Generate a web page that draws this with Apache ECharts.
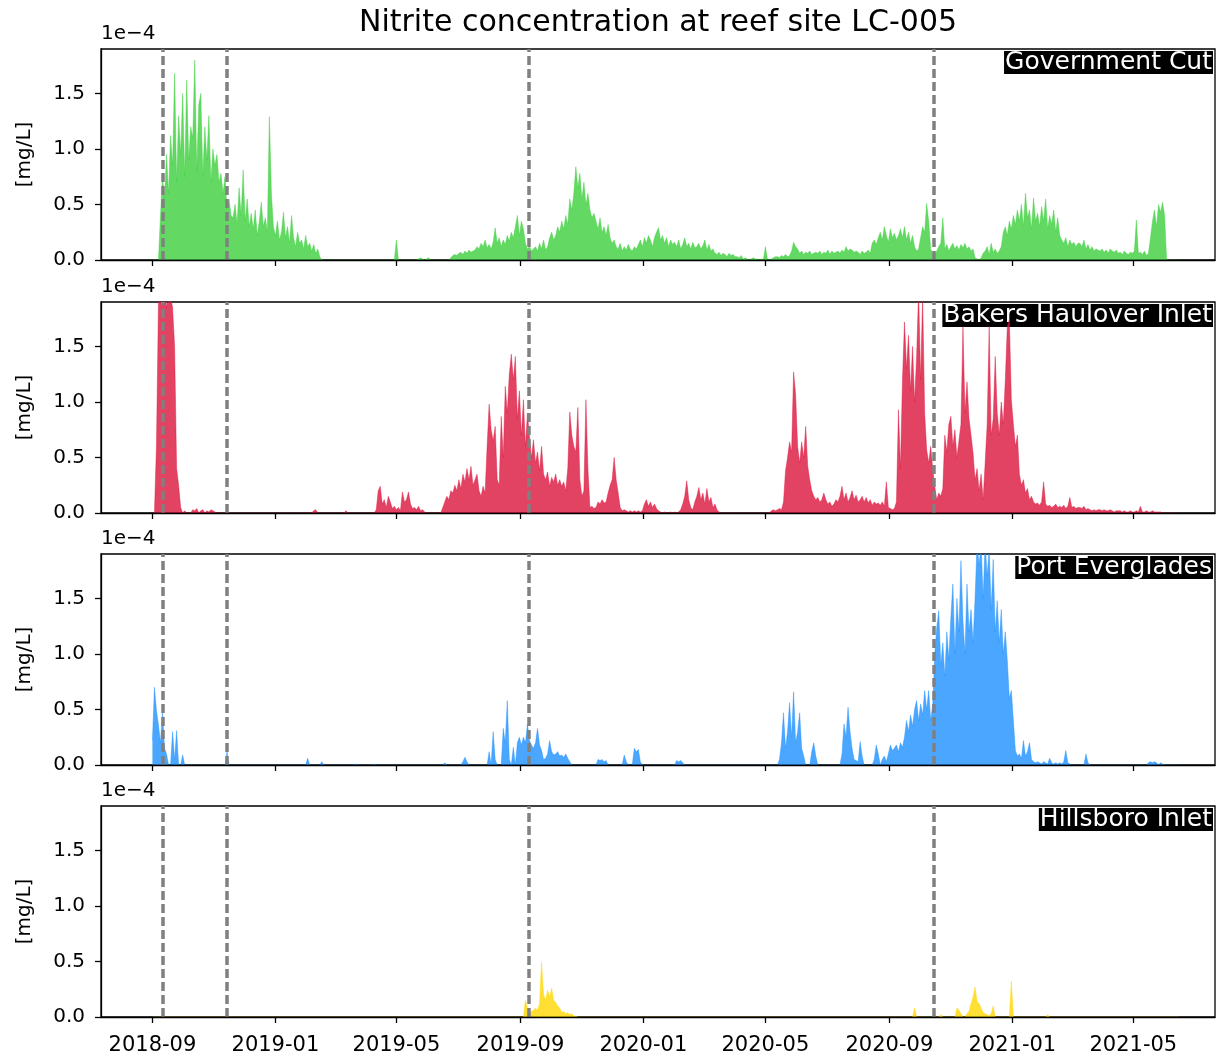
<!DOCTYPE html>
<html>
<head>
<meta charset="utf-8">
<script src="https://cdn.jsdelivr.net/npm/echarts@6/dist/echarts.min.js"></script>
<style>
html,body{margin:0;padding:0;background:#fff;}
#chart{width:1220px;height:1059px;}
</style>
</head>
<body>
<div id="chart"></div>
<script>
// ---- DATA (values in units of 1e-6 mg/L, i.e. 100 = 1.0e-4) ----
const startDate = '2018-09-01';   // first sample
const stepDays = 2;               // sampling step of the value arrays
const xMinDate = '2018-07-12';
const xMaxDate = '2021-07-21';
const tickDates = ['2018-09-01','2019-01-01','2019-05-01','2019-09-01','2020-01-01','2020-05-01','2020-09-01','2021-01-01','2021-05-01'];
const eventDates = ['2018-09-11','2018-11-14','2019-09-09','2020-10-15'];
const yTicks = [0, 50, 100, 150];
const siteNames = ['Government Cut','Bakers Haulover Inlet','Port Everglades','Hillsboro Inlet'];

const govCut = [
0,0,0,0,40,75,55,95,60,112,
85,168,70,130,95,150,75,162,90,120,
110,180,80,140,150,75,120,90,130,70,
100,85,95,70,78,60,75,45,55,40,
38,50,32,65,40,81,35,55,30,42,
28,45,22,35,52,30,38,25,129,60,
30,22,35,18,25,43,20,30,15,40,
20,12,25,15,18,10,22,12,15,8,
14,6,10,3,0,0,0,0,0,0,
0,0,0,0,0,0,0,0,0,0,
0,0,0,0,0,0,0,0,0,0,
0,0,0,0,0,0,0,0,0,0,
0,18,0,0,0,0,0,0,0,0,
0,0,1,2,1,0,1,2,0,0,
0,0,0,0,0,0,0,0,2,4,
5,4,6,7,5,8,6,9,7,8,
9,12,10,15,12,18,11,14,10,16,
29,15,20,12,18,14,22,17,25,20,
30,40,22,35,28,15,10,12,8,10,
12,8,15,10,18,9,12,20,25,18,
22,30,25,35,28,40,32,55,45,60,
84,65,78,55,70,50,60,45,38,42,
35,28,38,25,30,22,32,20,15,18,
12,10,15,8,12,9,14,10,8,12,
10,14,18,12,20,15,22,18,12,20,
25,29,18,22,15,20,12,18,14,16,
12,18,10,14,20,12,15,10,16,11,
12,15,10,13,18,9,14,8,10,6,
5,7,4,6,5,3,6,4,5,3,
3,2,4,1,2,1,0,1,2,1,
1,0,1,0,12,1,0,1,2,3,
3,2,4,3,5,3,4,8,16,12,
10,6,8,5,7,6,8,5,6,7,
6,8,5,7,6,9,5,8,6,7,
8,6,9,7,12,8,10,9,7,8,
7,5,8,6,7,9,6,15,18,14,
20,25,18,30,22,16,28,20,24,18,
22,28,20,30,18,25,15,22,12,8,
10,20,30,25,51,35,10,6,5,8,
12,15,38,10,14,8,12,15,10,13,
9,14,11,15,10,12,8,10,2,1,
0,2,6,8,12,5,15,7,10,6,
8,12,25,30,22,35,28,40,32,45,
35,50,30,60,38,45,28,56,35,42,
30,48,35,55,28,40,32,45,25,38,
22,18,15,20,12,18,14,16,12,15,
15,12,18,10,14,9,12,8,10,9,
8,10,7,9,6,10,8,7,9,6,
7,5,8,6,5,7,6,8,36,6,
7,5,8,4,6,20,35,45,30,50,
43,52,40,0,0,0,0,0,0,0
];

const bakers = [
0,0,60,190,200,195,200,185,200,195,
185,150,40,25,5,0,2,0,0,0,
3,2,4,0,2,3,0,2,1,3,
2,1,0,0,0,0,0,0,0,0,
0,0,0,0,0,0,0,0,0,0,
0,0,0,0,0,0,0,0,0,0,
0,0,0,0,0,0,0,0,0,0,
0,0,0,0,0,0,0,0,0,0,
2,3,0,0,0,0,0,0,0,0,
0,0,0,0,0,0,2,0,0,0,
0,0,0,0,0,0,0,0,0,0,
0,3,20,24,8,12,5,15,10,4,
6,3,5,2,19,10,12,19,8,4,
5,3,6,2,3,1,0,0,0,0,
0,0,0,0,5,10,15,12,20,18,
25,20,30,22,35,28,40,30,42,25,
30,35,20,15,24,18,60,98,75,65,
78,30,25,87,50,114,90,125,143,120,
141,85,110,70,102,60,90,69,50,66,
45,55,38,60,35,30,37,24,32,28,
35,25,30,24,28,20,40,91,70,60,
55,95,30,15,20,102,40,5,6,4,
5,10,8,12,9,10,18,25,30,50,
30,18,5,2,3,2,1,2,1,2,
1,2,1,2,8,12,6,10,5,8,
4,2,1,0,1,0,0,1,0,1,
0,1,3,8,15,29,12,5,3,10,
15,23,12,18,8,22,10,14,5,8,
3,1,0,0,0,0,0,0,0,0,
0,0,0,0,0,0,0,0,0,0,
0,0,0,0,0,0,0,2,3,2,
3,4,3,10,38,50,64,55,127,107,
60,45,64,50,78,42,30,20,15,12,
14,10,12,18,12,8,10,6,8,12,
10,15,24,12,18,10,14,20,12,16,
10,12,15,10,14,9,12,7,10,8,
9,7,10,6,28,5,4,3,4,10,
93,40,120,172,130,160,110,150,100,140,
200,120,195,90,57,45,60,40,24,12,
18,15,22,70,55,80,87,60,75,50,
65,80,168,90,118,85,70,54,30,40,
20,35,12,45,80,168,70,85,141,90,
70,100,80,120,168,174,102,80,60,70,
35,25,30,18,22,12,15,10,8,9,
7,10,28,8,6,7,5,6,8,5,
6,5,7,4,6,14,5,6,4,5,
5,4,6,3,4,3,2,3,2,3,
3,2,3,2,2,3,2,1,2,2,
2,1,2,1,1,2,1,1,2,1,
6,1,1,2,1,1,2,1,1,1,
1,0,0,0,0,0,0,0,0,0
];

const portEverglades = [
22,70,49,36,20,48,15,10,0,0,
30,5,31,0,0,9,0,0,0,0,
0,0,0,0,0,0,0,0,0,0,
0,0,0,0,0,0,0,12,0,0,
0,0,0,0,0,0,0,0,0,0,
0,0,0,0,0,0,0,0,0,0,
0,0,0,0,0,0,0,0,0,0,
0,0,0,0,0,0,0,6,0,0,
0,0,0,0,3,0,0,0,0,0,
0,0,0,0,0,0,0,0,0,0,
0,1,0,0,0,0,0,0,0,0,
1,0,0,0,0,0,0,0,0,0,
0,0,0,0,0,0,0,0,0,0,
0,0,0,0,0,0,0,0,0,0,
0,0,0,0,0,2,0,0,0,0,
0,0,0,0,3,7,3,0,0,0,
0,0,0,0,0,0,0,12,0,30,
5,0,0,0,33,20,58,5,0,16,
0,20,25,18,25,20,37,22,18,15,
20,33,18,13,5,6,10,22,12,9,
10,12,8,9,7,10,6,3,0,0,
0,0,0,0,0,0,0,0,0,0,
0,5,4,5,3,4,0,0,0,0,
0,0,0,0,9,3,0,0,0,15,
12,14,3,0,0,0,0,0,0,0,
0,0,0,0,0,0,0,0,0,0,
4,3,4,2,0,0,0,0,0,0,
0,0,0,0,0,0,0,0,0,0,
0,0,0,0,0,0,0,0,0,0,
0,0,0,0,0,0,0,0,0,0,
0,0,0,0,0,0,0,0,0,0,
0,5,20,47,15,30,56,25,66,20,
30,47,15,8,0,0,0,12,20,8,
0,0,0,0,0,0,0,0,0,0,
0,0,10,37,25,52,30,15,5,4,
3,21,8,0,0,0,0,0,5,18,
10,0,5,8,3,10,18,13,15,18,
12,20,16,25,40,30,45,35,50,58,
40,55,45,67,50,67,40,55,100,124,
139,90,110,80,120,95,133,163,100,150,
120,184,130,100,163,120,140,110,150,200,
180,200,150,200,170,195,140,185,120,148,
110,140,100,120,94,60,67,40,13,8,
10,6,22,8,12,20,5,3,2,3,
2,1,3,2,1,6,2,1,2,1,
2,1,3,13,2,1,0,0,0,0,
0,0,0,10,2,0,0,0,0,0,
0,0,0,0,0,0,0,0,0,0,
0,0,0,0,0,0,0,0,0,0,
0,0,0,0,2,3,2,3,2,0,
2,1,0,0,0,0,0,0,0,0
];

const hillsboro = [
0,0,0,0,0,0,0,0,0,0,
0,0,0,0,0,0,0,0,0,0,
0,0,0,0,0,0,0,0,0,0,
0,0,0,0,0,0,0,0,0,0,
0,0,0,0,0,0,0,0,0,0,
0,0,0,0,0,0,0,0,0,0,
0,0,0,0,0,0,0,0,0,0,
0,0,0,0,0,0,0,0,0,0,
0,0,0,0,0,0,0,0,0,0,
0,0,0,0,0,0,0,0,0,0,
0,0,0,0,0,0,0,0,0,0,
0,0,0,0,0,0,0,0,0,0,
0,0,0,0,0,0,0,0,0,0,
0,0,0,0,0,0,0,0,0,0,
0,0,0,0,0,0,0,0,0,0,
0,0,0,0,0,0,0,0,0,0,
0,0,0,0,0,0,0,0,0,0,
0,0,0,0,0,0,0,0,0,0,
0,0,0,0,0,15,8,2,5,6,
8,6,12,49,20,15,24,18,26,15,
13,10,8,4,5,3,4,2,3,1,
1,0,0,0,0,0,0,0,0,0,
0,0,0,0,0,0,0,0,0,0,
0,0,0,0,0,0,0,0,0,0,
0,0,0,0,0,0,0,0,0,0,
0,0,0,0,0,0,0,0,0,0,
0,0,0,0,0,0,0,0,0,0,
0,0,0,0,0,0,0,0,0,0,
0,0,0,0,0,0,0,0,0,0,
0,0,0,0,0,0,0,0,0,0,
0,0,0,0,0,0,0,0,0,0,
0,0,0,0,0,0,0,0,0,0,
0,0,0,0,0,0,0,0,0,0,
0,0,0,0,0,0,0,0,0,0,
0,0,0,0,0,0,0,0,0,0,
0,0,0,0,0,0,0,0,0,0,
0,0,0,0,0,0,0,0,0,0,
0,0,0,0,0,0,0,0,8,0,
0,0,0,0,0,0,0,0,0,0,
0,2,0,0,0,0,0,0,0,8,
6,3,0,0,3,5,12,18,27,14,
12,8,4,3,2,1,3,10,0,0,
0,0,0,0,0,0,32,0,0,0,
0,0,0,0,0,0,0,0,0,0,
0,0,0,0,2,0,0,0,0,0,
0,0,0,0,0,0,0,0,0,0,
0,0,0,0,0,0,0,0,0,0,
0,0,0,0,0,0,0,0,0,0,
0,0,0,0,0,0,0,0,0,0,
0,0,0,0,0,0,0,0,0,0,
0,0,0,0,0,0,0,0,0,0
];

// ---- STYLE / LAYOUT ----
const FONT = 'DejaVu Sans';
const colors = ['#3CD03C', '#DC143C', '#1E90FF', '#FFD700'];
const allSeries = [govCut, bakers, portEverglades, hillsboro];
const panelTops = [49, 302, 554, 806];
const panelH = 211;
const gridLeft = 101, gridRight = 5;
const DAY = 86400000;
const t0 = Date.parse(startDate);
const ts = s => Date.parse(s);
const pad = n => (n < 10 ? '0' : '') + n;
const tickTs = tickDates.map(ts);

const grids = [], xAxes = [], yAxes = [], series = [], graphics = [];
panelTops.forEach((top, k) => {
  grids.push({left: gridLeft, right: gridRight, top: top, height: panelH,
    show: true, borderColor: '#000', borderWidth: 1.3, backgroundColor: 'transparent', containLabel: false});
  xAxes.push({
    type: 'value', gridIndex: k, min: ts(xMinDate), max: ts(xMaxDate), z: 5,
    axisLine: {show: true, onZero: false, lineStyle: {color: '#000', width: 1.3}},
    axisTick: {show: true, length: 6, lineStyle: {color: '#000', width: 1.3}, customValues: tickTs},
    axisLabel: {show: k === 3, customValues: tickTs, margin: 18, color: '#000',
      fontFamily: FONT, fontSize: 21,
      formatter: v => { const d = new Date(v); return d.getUTCFullYear() + '-' + pad(d.getUTCMonth() + 1); }},
    splitLine: {show: false}
  });
  yAxes.push({
    type: 'value', gridIndex: k, min: 0, max: 190, z: 5,
    name: '[mg/L]', nameLocation: 'middle', nameGap: 66, nameRotate: 90,
    nameTextStyle: {fontFamily: FONT, fontSize: 20, color: '#000'},
    axisLine: {show: true, lineStyle: {color: '#000', width: 1.3}},
    axisTick: {show: true, length: 6, lineStyle: {color: '#000', width: 1.3}, customValues: yTicks},
    axisLabel: {customValues: yTicks, margin: 16, color: '#000', fontFamily: FONT, fontSize: 20,
      formatter: v => (v / 100).toFixed(1)},
    splitLine: {show: false}
  });
  series.push({
    type: 'line', xAxisIndex: k, yAxisIndex: k, showSymbol: false, symbol: 'none',
    smooth: false, clip: true, z: 2,
    data: allSeries[k].map((v, i) => [t0 + i * stepDays * DAY, v]),
    lineStyle: {color: colors[k], width: 0.6, opacity: 0.7},
    areaStyle: {color: colors[k], opacity: 0.8},
    markLine: {
      silent: true, symbol: ['none', 'none'], label: {show: false}, animation: false,
      lineStyle: {color: '#808080', type: [9, 4], width: 3.5, opacity: 1},
      data: eventDates.map(d => ({xAxis: ts(d)}))
    }
  });
  graphics.push({type: 'text', x: gridLeft, y: top - 15,
    style: {text: '1e\u22124', fontFamily: FONT, fontSize: 20, fill: '#000',
      textAlign: 'left', textVerticalAlign: 'middle', align: 'left', verticalAlign: 'middle'}});
  graphics.push({type: 'text', right: gridRight + 2, top: top + 1,
    style: {text: siteNames[k], fontFamily: FONT, fontSize: 25, lineHeight: 23, fill: '#fff',
      backgroundColor: '#000', padding: [0, 1, 0, 1]}});
});
graphics.push({type: 'text', x: 658, y: 23,
  style: {text: 'Nitrite concentration at reef site LC-005', fontFamily: FONT, fontSize: 30, fill: '#000',
    textAlign: 'center', textVerticalAlign: 'middle', align: 'center', verticalAlign: 'middle'}});

const chart = echarts.init(document.getElementById('chart'), null, {renderer: 'canvas'});
chart.setOption({
  animation: false,
  backgroundColor: '#fff',
  grid: grids, xAxis: xAxes, yAxis: yAxes, series: series, graphic: graphics
});
</script>
</body>
</html>
